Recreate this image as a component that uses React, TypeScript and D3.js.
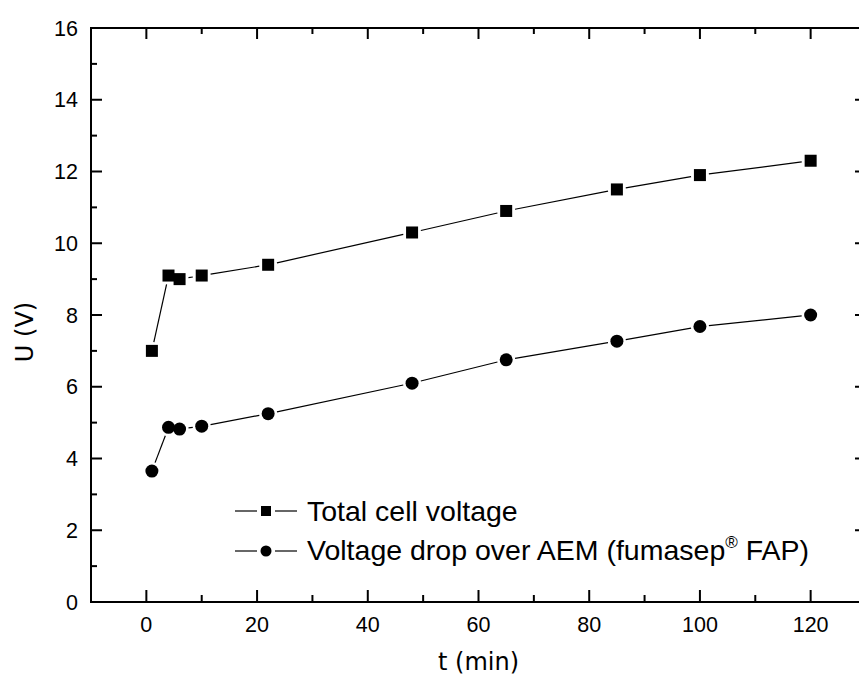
import * as d3 from "d3";

// time (min)
const times = [1, 4, 6, 10, 22, 48, 65, 85, 100, 120];
// total cell voltage (V)
const totalVoltage = [7.0, 9.1, 9.0, 9.1, 9.4, 10.3, 10.9, 11.5, 11.9, 12.3];
// voltage drop over the AEM (V)
const aemVoltage = [3.65, 4.87, 4.82, 4.9, 5.25, 6.1, 6.75, 7.27, 7.68, 8.0];

const xMajor = [0, 20, 40, 60, 80, 100, 120];
const yMajor = [0, 2, 4, 6, 8, 10, 12, 14, 16];

const W = 859;
const H = 682;
const left = 91, right = 866, top = 28, bottom = 602;
const tickFont = "'Liberation Sans', Arial, sans-serif";
const titleFont = "'DejaVu Sans', Verdana, sans-serif";

// Origin style: segments stop short of the markers
function gappedSegments(pts: [number, number][], gap: number) {
  const segs: [number, number, number, number][] = [];
  for (let i = 0; i < pts.length - 1; i++) {
    const [x1, y1] = pts[i];
    const [x2, y2] = pts[i + 1];
    const len = Math.hypot(x2 - x1, y2 - y1);
    if (len <= gap * 2) continue;
    const ux = (x2 - x1) / len, uy = (y2 - y1) / len;
    segs.push([x1 + ux * gap, y1 + uy * gap, x2 - ux * gap, y2 - uy * gap]);
  }
  return segs;
}

export default function App() {
  const x = d3.scaleLinear([-10, 130], [left, right]);
  const y = d3.scaleLinear([0, 16], [bottom, top]);

  const xMinor = d3.range(-10, 131, 10).filter((v) => !xMajor.includes(v));
  const yMinor = d3.range(0, 17, 1).filter((v) => !yMajor.includes(v));

  const totalPts = times.map((t, i) => [x(t), y(totalVoltage[i])] as [number, number]);
  const aemPts = times.map((t, i) => [x(t), y(aemVoltage[i])] as [number, number]);

  const sq = 12;
  const legendX = 235, legendLineEnd = 297, legendText = 307;
  const legMid = (legendX + legendLineEnd) / 2;

  return (
    <svg width={W} height={H} style={{ position: "absolute", left: 0, top: 0, background: "#fff" }}>
      <rect x={0} y={0} width={W} height={H} fill="#fff" />

      {/* series lines */}
      <g stroke="#000" strokeWidth={1.2}>
        {gappedSegments(totalPts, 9).map((s, i) => (
          <line key={"t" + i} x1={s[0]} y1={s[1]} x2={s[2]} y2={s[3]} />
        ))}
        {gappedSegments(aemPts, 9).map((s, i) => (
          <line key={"a" + i} x1={s[0]} y1={s[1]} x2={s[2]} y2={s[3]} />
        ))}
      </g>
      <g fill="#000">
        {totalPts.map(([px, py], i) => (
          <rect key={i} x={px - sq / 2} y={py - sq / 2} width={sq} height={sq} />
        ))}
        {aemPts.map(([px, py], i) => (
          <circle key={i} cx={px} cy={py} r={6.5} />
        ))}
      </g>

      {/* frame */}
      <g stroke="#000" strokeWidth={2} fill="none">
        <rect x={left} y={top} width={right - left} height={bottom - top} />
        {xMajor.map((v) => (
          <g key={"xm" + v}>
            <line x1={x(v)} x2={x(v)} y1={bottom} y2={bottom - 12} />
            <line x1={x(v)} x2={x(v)} y1={top} y2={top + 11} />
          </g>
        ))}
        {xMinor.map((v) => (
          <g key={"xn" + v}>
            <line x1={x(v)} x2={x(v)} y1={bottom} y2={bottom - 7} />
            <line x1={x(v)} x2={x(v)} y1={top} y2={top + 6} />
          </g>
        ))}
        {yMajor.map((v) => (
          <g key={"ym" + v}>
            <line x1={left} x2={left + 11} y1={y(v)} y2={y(v)} />
            <line x1={right} x2={right - 11} y1={y(v)} y2={y(v)} />
          </g>
        ))}
        {yMinor.map((v) => (
          <g key={"yn" + v}>
            <line x1={left} x2={left + 6} y1={y(v)} y2={y(v)} />
            <line x1={right} x2={right - 6} y1={y(v)} y2={y(v)} />
          </g>
        ))}
      </g>

      {/* tick labels */}
      <g fontFamily={tickFont} fontSize={21.5} fill="#000">
        {xMajor.map((v) => (
          <text key={v} x={x(v)} y={632} textAnchor="middle">{v}</text>
        ))}
        {yMajor.map((v) => (
          <text key={v} x={78} y={y(v)} dy="0.36em" textAnchor="end">{v}</text>
        ))}
      </g>

      {/* axis titles */}
      <text x={x(60)} y={670} textAnchor="middle" fontFamily={titleFont} fontSize={24}>t (min)</text>
      <text transform={`translate(33,332) rotate(-90)`} textAnchor="middle" fontFamily={titleFont} fontSize={24}>U (V)</text>

      {/* legend */}
      <g fontFamily={tickFont} fontSize={28.5}>
        <line x1={legendX} x2={legMid - 9} y1={511} y2={511} stroke="#000" strokeWidth={1.2} />
        <line x1={legMid + 9} x2={legendLineEnd} y1={511} y2={511} stroke="#000" strokeWidth={1.2} />
        <rect x={legMid - 5} y={506} width={10} height={10} fill="#000" />
        <text x={legendText} y={521}>Total cell voltage</text>

        <line x1={legendX} x2={legMid - 9} y1={551} y2={551} stroke="#000" strokeWidth={1.2} />
        <line x1={legMid + 9} x2={legendLineEnd} y1={551} y2={551} stroke="#000" strokeWidth={1.2} />
        <circle cx={legMid} cy={551} r={5.5} fill="#000" />
        <text x={legendText} y={560}>
          Voltage drop over AEM (fumasep
          <tspan fontSize={17} dy={-12}>®</tspan>
          <tspan dy={12}> FAP)</tspan>
        </text>
      </g>
    </svg>
  );
}
